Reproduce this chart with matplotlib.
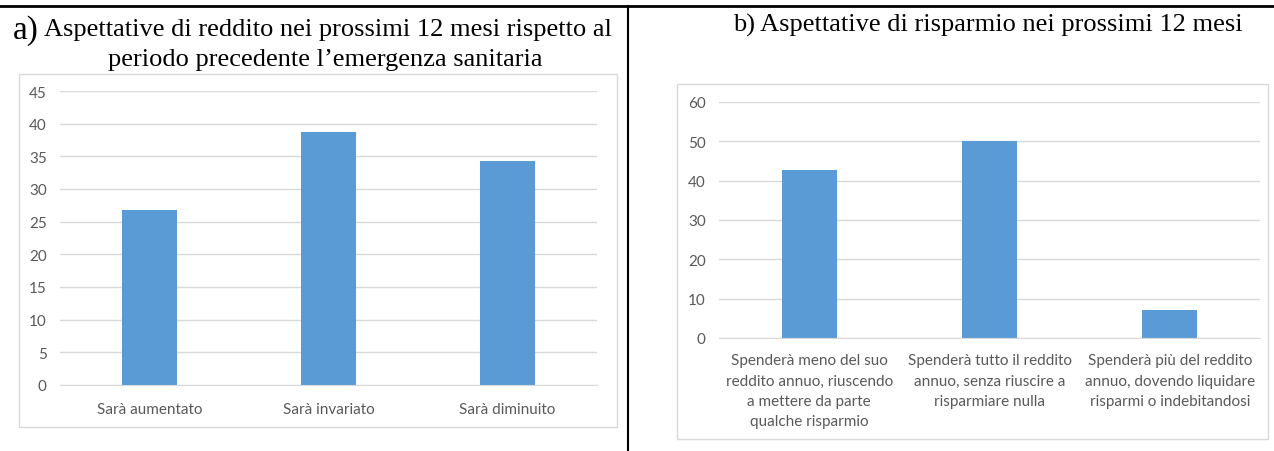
import matplotlib.pyplot as plt
from matplotlib.patches import Rectangle
from matplotlib.lines import Line2D

# data
income_labels = ['Sarà aumentato', 'Sarà invariato', 'Sarà diminuito']
income_values = [26.8, 38.8, 34.3]

saving_labels = ['Spenderà meno del suo\nreddito annuo, riuscendo\na mettere da parte\nqualche risparmio',
                 'Spenderà tutto il reddito\nannuo, senza riuscire a\nrisparmiare nulla',
                 'Spenderà più del reddito\nannuo, dovendo liquidare\nrisparmi o indebitandosi']
saving_values = [42.6, 50.0, 7.0]

W, H = 1274, 452
bar_color = '#5b9bd5'
grid_color = '#d9d9d9'
tick_color = '#595959'
tick_font = 'Lato'
title_font = 'Liberation Serif'

fig = plt.figure(figsize=(W / 100, H / 100), dpi=100)


def fx(px):
    return px / W


def fy(py):
    return 1 - py / H


# frame of the document table
fig.add_artist(Line2D([0, 1], [fy(7), fy(7)], color='black', lw=2))
fig.add_artist(Line2D([fx(628), fx(628)], [fy(7), 0], color='black', lw=1.5))

# chart boxes
fig.add_artist(Rectangle((fx(19), fy(428)), fx(598), (428 - 75) / H,
                         fill=False, edgecolor=grid_color, lw=1))
fig.add_artist(Rectangle((fx(677), fy(440)), fx(591), (440 - 85) / H,
                         fill=False, edgecolor=grid_color, lw=1))

# titles
fig.text(fx(13), fy(31), 'a)', family=title_font, size=24, va='center')
fig.text(fx(44), fy(30), 'Aspettative di reddito nei prossimi 12 mesi rispetto al',
         family=title_font, size=19, va='center')
fig.text(fx(325), fy(60), 'periodo precedente l\u2019emergenza sanitaria',
         family=title_font, size=19, va='center', ha='center')
fig.text(fx(988), fy(25), 'b) Aspettative di risparmio nei prossimi 12 mesi',
         family=title_font, size=19, va='center', ha='center')


def style(ax, top, step):
    ax.set_ylim(0, top)
    ax.set_yticks(range(0, top + 1, step))
    ax.set_xlim(-0.5, 2.5)
    ax.grid(axis='y', color=grid_color, lw=1)
    ax.set_axisbelow(True)
    for s in ['top', 'right', 'left']:
        ax.spines[s].set_visible(False)
    ax.spines['bottom'].set_color(grid_color)
    ax.tick_params(length=0, colors=tick_color, labelsize=11)
    for lab in ax.get_xticklabels() + ax.get_yticklabels():
        lab.set_family(tick_font)
    ax.tick_params(axis='y', pad=9.5)
    ax.patch.set_alpha(0)


ax1 = fig.add_axes([fx(60), fy(386), fx(537), (386 - 92) / H])
ax1.bar(range(3), income_values, width=0.305, color=bar_color)
ax1.set_xticks(range(3))
ax1.set_xticklabels(income_labels)
style(ax1, 45, 5)
ax1.tick_params(axis='x', pad=12)

ax2 = fig.add_axes([fx(719), fy(339), fx(541), (339 - 103) / H])
ax2.bar(range(3), saving_values, width=0.305, color=bar_color)
ax2.set_xticks(range(3))
ax2.set_xticklabels(saving_labels, linespacing=1.58)
style(ax2, 60, 10)
ax2.tick_params(axis='x', pad=11)

fig.savefig('out.png', dpi=100)
